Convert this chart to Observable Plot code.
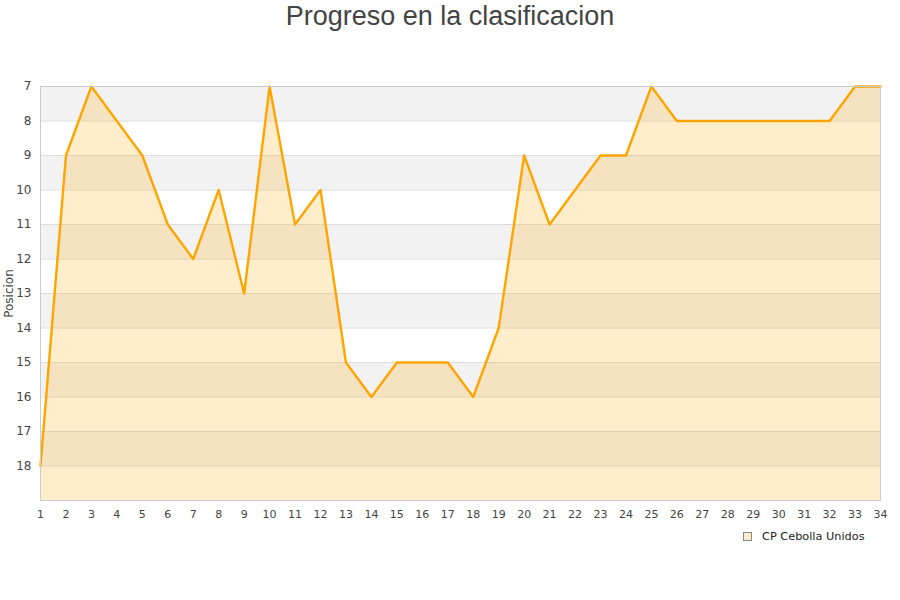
<!DOCTYPE html>
<html><head><meta charset="utf-8">
<script src="https://cdn.jsdelivr.net/npm/d3@7"></script>
<script src="https://cdn.jsdelivr.net/npm/@observablehq/plot@0.6"></script>
<style>
body{margin:0;background:#fff;width:900px;height:600px;position:relative;overflow:hidden;font-family:"DejaVu Sans",sans-serif;}
#title{height:40px;line-height:32px;text-align:center;font-family:"Liberation Sans",Arial,sans-serif;font-size:27px;color:#444;}
#legend{position:absolute;left:743px;top:530px;font-size:11.3px;color:#222;display:flex;align-items:center;}
#legend span.sw{display:inline-block;width:7px;height:7px;background:#ffecc9;border:1px solid #888;margin-right:10px;}
</style></head><body>
<div id="title">Progreso en la clasificacion</div>
<div id="chart"></div>
<div id="legend"><span class="sw"></span>CP Cebolla Unidos</div>
<script>
const jornadas = d3.range(1, 35);
const posiciones = [18, 9, 7, 8, 9, 11, 12, 10, 13, 7, 11, 10, 15, 16, 15, 15, 15, 16, 14, 9, 11, 10, 9, 9, 7, 8, 8, 8, 8, 8, 8, 8, 7, 7];
const yTicks = [7, 8, 9, 10, 11, 12, 13, 14, 15, 16, 17, 18];
const bandStarts = [7, 9, 11, 13, 15, 17];
const gridLines = [7, 8, 9, 10, 11, 12, 13, 14, 15, 16, 17, 18, 19];
const serie = "CP Cebolla Unidos";

const data = jornadas.map((j, i) => ({jornada: j, pos: posiciones[i]}));

const chart = Plot.plot({
  width: 900,
  height: 560,
  marginTop: 46,
  marginBottom: 100,
  marginLeft: 40,
  marginRight: 20,
  style: {fontFamily: "DejaVu Sans, sans-serif", fontSize: "11px", color: "#444"},
  x: {domain: [1, 34], label: null},
  y: {domain: [19, 7], label: "Posicion"},
  marks: [
    Plot.rect(bandStarts, {x1: 1, x2: 34, y1: d => d, y2: d => d + 1, fill: "#f2f2f2"}),
    Plot.ruleY(gridLines, {stroke: "#dcdcdc", strokeWidth: 1}),
    Plot.areaY(data, {x: "jornada", y1: 19, y2: "pos", fill: "orange", fillOpacity: 0.2}),
    Plot.line(data, {x: "jornada", y: "pos", stroke: "orange", strokeWidth: 2.4}),
    Plot.frame({stroke: "#cccccc"}),
    Plot.axisX({ticks: jornadas, tickSize: 0, tickPadding: 10, label: null, fontSize: 11}),
    Plot.axisY({ticks: yTicks, tickSize: 0, tickPadding: 9, label: "Posicion", labelAnchor: "center", labelArrow: "none", labelOffset: 36, fontSize: 12})
  ]
});
document.getElementById("chart").appendChild(chart);
</script>
</body></html>
